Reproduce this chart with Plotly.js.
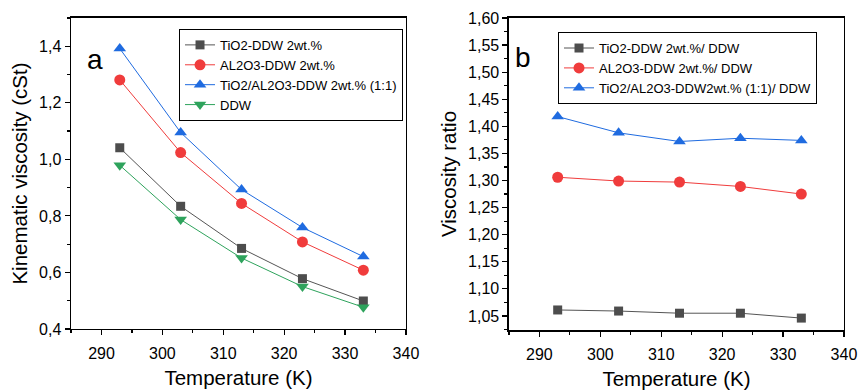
<!DOCTYPE html>
<html>
<head>
<meta charset="utf-8">
<script src="https://cdn.plot.ly/plotly-3.0.1.min.js"></script>
<style>html,body{margin:0;padding:0;background:#fff}#chart{width:859px;height:391px}</style>
</head>
<body>
<div id="chart"></div>
<script>
const temperature = [293, 303, 313, 323, 333];
const tio2Visc = [1.041, 0.834, 0.685, 0.578, 0.499];
const al2o3Visc = [1.281, 1.024, 0.844, 0.708, 0.608];
const hybridVisc = [1.392, 1.095, 0.893, 0.759, 0.656];
const ddwVisc = [0.979, 0.787, 0.651, 0.550, 0.477];
const tio2Ratio = [1.061, 1.059, 1.055, 1.055, 1.046];
const al2o3Ratio = [1.306, 1.299, 1.297, 1.289, 1.275];
const hybridRatio = [1.418, 1.388, 1.372, 1.378, 1.374];
const namesA = ['TiO2-DDW 2wt.%', 'AL2O3-DDW 2wt.%', 'TiO2/AL2O3-DDW 2wt.% (1:1)', 'DDW'];
const namesB = ['TiO2-DDW 2wt.%/ DDW', 'AL2O3-DDW 2wt.%/ DDW', 'TiO2/AL2O3-DDW2wt.% (1:1)/ DDW'];

const cGray = '#4d4d4d', cRed = '#f03c3c', cBlue = '#1f6be0', cGreen = '#2ea35c';
function tr(x, y, name, color, symbol, size, xa, ya, leg, lineColor) {
  return {x: x, y: y, name: name, type: 'scatter', mode: 'lines+markers',
    xaxis: xa, yaxis: ya, legend: leg,
    line: {color: lineColor || color, width: 1},
    marker: {color: color, symbol: symbol, size: size}};
}
const data = [
  tr(temperature, tio2Visc, namesA[0], cGray, 'square', 9, 'x', 'y', 'legend', '#555555'),
  tr(temperature, al2o3Visc, namesA[1], cRed, 'circle', 11, 'x', 'y', 'legend'),
  tr(temperature, hybridVisc, namesA[2], cBlue, 'triangle-up', 11, 'x', 'y', 'legend'),
  tr(temperature, ddwVisc, namesA[3], cGreen, 'triangle-down', 11, 'x', 'y', 'legend'),
  tr(temperature, tio2Ratio, namesB[0], cGray, 'square', 9, 'x2', 'y2', 'legend2', '#555555'),
  tr(temperature, al2o3Ratio, namesB[1], cRed, 'circle', 11, 'x2', 'y2', 'legend2'),
  tr(temperature, hybridRatio, namesB[2], cBlue, 'triangle-up', 11, 'x2', 'y2', 'legend2')
];
const font = {family: 'Liberation Sans, Arial, sans-serif', color: '#000'};
function xax(dom, anchor) {
  return {domain: dom, anchor: anchor, range: [285, 340], dtick: 10, tick0: 290,
    ticks: 'outside', ticklen: 5, tickwidth: 1.2, tickcolor: '#000',
    showline: true, linecolor: '#000', linewidth: 1.5, mirror: true,
    showgrid: false, zeroline: false, ticklabelstandoff: 4,
    minor: {dtick: 5, ticks: 'outside', ticklen: 3, tickcolor: '#000'},
    tickfont: {size: 16},
    title: {text: 'Temperature (K)', font: {size: 20.5}, standoff: 10}};
}
function yax(dom, anchor, range, dtick, fmt, title) {
  return {domain: dom, anchor: anchor, range: range, dtick: dtick, tickformat: fmt,
    ticks: 'outside', ticklen: 5, tickwidth: 1.2, tickcolor: '#000',
    showline: true, linecolor: '#000', linewidth: 1.5, mirror: true,
    showgrid: false, zeroline: false,
    minor: {dtick: dtick / 2, ticks: 'outside', ticklen: 3, tickcolor: '#000'},
    tickfont: {size: 16},
    title: {text: title, font: {size: 20.5}, standoff: 6}};
}
const layout = {
  width: 859, height: 391,
  margin: {l: 0, r: 0, t: 0, b: 0},
  paper_bgcolor: '#fff', plot_bgcolor: '#fff',
  font: font, separators: ',.',
  xaxis: xax([0.0827, 0.4726], 'y'),
  yaxis: yax([0.1586, 0.954], 'x', [0.4, 1.5], 0.2, '.1f', 'Kinematic viscosity (cSt)'),
  xaxis2: xax([0.5925, 0.9825], 'y2'),
  yaxis2: yax([0.156, 0.954], 'x2', [1.024, 1.6], 0.05, '.2f', 'Viscosity ratio'),
  legend: {x: 0.2084, y: 0.926, xanchor: 'left', yanchor: 'top', bordercolor: '#000', borderwidth: 1,
    bgcolor: '#fff', font: {size: 13}, tracegroupgap: 0, itemwidth: 30},
  legend2: {x: 0.6496, y: 0.918, xanchor: 'left', yanchor: 'top', bordercolor: '#000', borderwidth: 1,
    bgcolor: '#fff', font: {size: 13}, tracegroupgap: 0, itemwidth: 30},
  annotations: [
    {text: 'a', xref: 'paper', yref: 'paper', x: 85 / 859, y: 1 - 42 / 391, showarrow: false, font: {size: 28}},
    {text: 'b', xref: 'paper', yref: 'paper', x: 523 / 859, y: 1 - 40 / 391, showarrow: false, font: {size: 28}}
  ]
};
Plotly.newPlot('chart', data, layout, {displayModeBar: false, staticPlot: true});
</script>
</body>
</html>
